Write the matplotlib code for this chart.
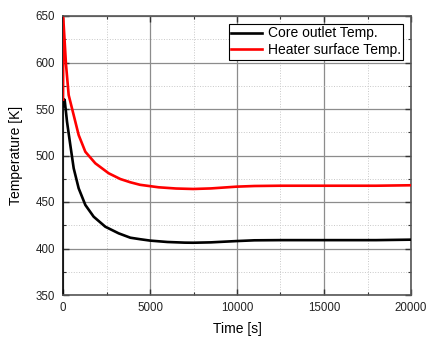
import matplotlib
matplotlib.use("Agg")
import matplotlib.pyplot as plt
from matplotlib.ticker import MultipleLocator

plt.rcParams['font.family'] = ['Liberation Sans', 'DejaVu Sans']

# Data
core_t = [0, 57, 96, 230, 420, 615, 900, 1284, 1762, 2433, 3199, 3870, 4425,
          5000, 6000, 7000, 7490, 8500, 9980, 11000, 12470, 15000, 18000, 20000]
core_T = [553, 560.5, 559.7, 536.4, 511.3, 486.2, 464.7, 446.8, 434.2, 423.4,
          416.3, 411.6, 410, 408.5, 407, 406.3, 406.2, 406.6, 408, 408.8, 409,
          409, 409, 409.5]

heater_t = [0, 15, 172, 326, 613, 900, 1284, 1858, 2624, 3295, 3870, 4425,
            5500, 6500, 7490, 8500, 9980, 11000, 12470, 15000, 18000, 20000]
heater_T = [560, 648, 598, 565, 543.5, 522, 504, 491.6, 480.9, 474.7, 471.2,
            468.5, 465.8, 464.5, 464, 464.6, 466.5, 467.2, 467.5, 467.5, 467.5,
            468]

labels = ["Core outlet Temp.", "Heater surface Temp."]

fig = plt.figure(figsize=(4.27, 3.38), dpi=100)
ax = fig.add_axes([63/427, 1-295/338, (411-63)/427, (295-16)/338])

ax.plot(core_t, core_T, color='black', lw=1.9, label=labels[0], zorder=3)
ax.plot(heater_t, heater_T, color='red', lw=1.9, label=labels[1], zorder=3)

ax.set_xlim(0, 20000)
ax.set_ylim(350, 650)
ax.xaxis.set_major_locator(MultipleLocator(5000))
ax.xaxis.set_minor_locator(MultipleLocator(2500))
ax.yaxis.set_major_locator(MultipleLocator(50))
ax.yaxis.set_minor_locator(MultipleLocator(25))

ax.grid(which='major', color='#8c8c8c', lw=0.9, ls='-')
ax.grid(which='minor', color='#c8c8c8', lw=0.7, ls=':')
ax.set_axisbelow(True)

ax.tick_params(which='both', direction='in', top=True, right=True,
               labelsize=8.3, colors='#333333', labelcolor='#222222')
ax.tick_params(which='major', length=4, width=1)
ax.tick_params(which='minor', length=2.5, width=0.8)
ax.tick_params(axis='x', pad=5)
ax.tick_params(axis='y', pad=5.5)

for s in ['top', 'right', 'bottom']:
    ax.spines[s].set_color('#555555')
    ax.spines[s].set_linewidth(1.2)
ax.spines['left'].set_color('black')
ax.spines['left'].set_linewidth(1.2)

ax.set_xlabel("Time [s]", fontsize=10, labelpad=6)
ax.set_ylabel("Temperature [K]", fontsize=10, labelpad=9)

leg = ax.legend(loc='upper right', fontsize=10, frameon=True, fancybox=False,
                edgecolor='black', framealpha=1, borderpad=0.2,
                handlelength=2.2, handletextpad=0.4, labelspacing=0.2,
                borderaxespad=0.55)
leg.get_frame().set_linewidth(0.8)

fig.savefig("out.png", dpi=100)
